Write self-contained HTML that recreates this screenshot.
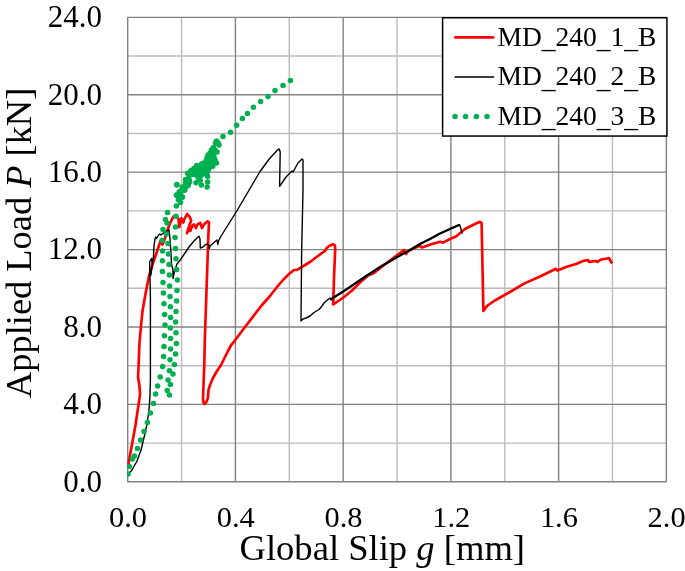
<!DOCTYPE html>
<html lang="en">
<head>
<meta charset="utf-8">
<title>Applied Load vs Global Slip</title>
<style>
html,body{margin:0;padding:0;background:#fff;}
body{width:685px;height:571px;overflow:hidden;}
svg{display:block;}
text{font-family:"Liberation Serif","Times New Roman",serif;fill:#000;}
.tick{font-size:31px;}
.xtick{font-size:30.4px;}
.title{font-size:36.6px;}
.ytitle{font-size:36.4px;}
.leg{font-size:27.5px;}
</style>
</head>
<body>
<svg width="685" height="571" viewBox="0 0 685 571">
<rect x="0" y="0" width="685" height="571" fill="#ffffff"/>

<g stroke="#bcbcbc" stroke-width="1.4" fill="none">
<line x1="181.56" y1="17.35" x2="181.56" y2="481.8"/>
<line x1="289.29" y1="17.35" x2="289.29" y2="481.8"/>
<line x1="397.02" y1="17.35" x2="397.02" y2="481.8"/>
<line x1="504.75" y1="17.35" x2="504.75" y2="481.8"/>
<line x1="612.49" y1="17.35" x2="612.49" y2="481.8"/>
<line x1="127.7" y1="443.10" x2="666.35" y2="443.10"/>
<line x1="127.7" y1="365.69" x2="666.35" y2="365.69"/>
<line x1="127.7" y1="288.28" x2="666.35" y2="288.28"/>
<line x1="127.7" y1="210.87" x2="666.35" y2="210.87"/>
<line x1="127.7" y1="133.46" x2="666.35" y2="133.46"/>
<line x1="127.7" y1="56.05" x2="666.35" y2="56.05"/>
</g>
<g stroke="#828282" stroke-width="1.4" fill="none" stroke-linejoin="round">
<line x1="235.43" y1="17.35" x2="235.43" y2="481.8"/>
<line x1="343.16" y1="17.35" x2="343.16" y2="481.8"/>
<line x1="450.89" y1="17.35" x2="450.89" y2="481.8"/>
<line x1="558.62" y1="17.35" x2="558.62" y2="481.8"/>
<line x1="127.7" y1="404.39" x2="666.35" y2="404.39"/>
<line x1="127.7" y1="326.98" x2="666.35" y2="326.98"/>
<line x1="127.7" y1="249.58" x2="666.35" y2="249.58"/>
<line x1="127.7" y1="172.17" x2="666.35" y2="172.17"/>
<line x1="127.7" y1="94.76" x2="666.35" y2="94.76"/>
<rect x="127.7" y="17.35" width="538.65" height="464.45"/>
</g>
<clipPath id="plotclip"><rect x="127.0" y="16.650000000000002" width="540.05" height="465.85"/></clipPath>
<g clip-path="url(#plotclip)">
<polyline points="127.9,467.3 130.0,455.0 133.0,439.0 135.5,425.0 138.5,405.0 140.0,395.0 139.5,386.0 138.0,377.0 138.5,368.0 139.4,344.0 141.0,326.0 142.5,311.0 145.5,294.0 149.0,276.0 153.0,263.0 155.5,256.0 160.5,241.0 162.5,244.5 164.0,241.0 168.0,228.6 170.8,221.6 173.3,216.8 175.5,215.9 178.5,218.9 179.2,227.1 181.3,218.4 182.3,219.6 183.3,222.6 184.3,219.1 187.3,214.0 189.7,216.8 191.1,220.3 189.0,226.6 186.9,233.3 189.0,230.1 190.4,230.8 192.2,225.9 193.9,224.5 196.0,228.0 197.4,224.5 200.2,222.8 202.0,228.0 204.4,223.8 207.6,221.4 209.0,222.4 208.4,235.0 204.8,340.0 204.3,365.0 203.5,385.0 203.0,399.0 203.5,402.5 204.5,404.0 206.0,402.8 207.3,400.0 208.0,397.0 208.5,390.0 210.0,385.0 213.0,378.0 217.0,371.0 221.0,365.0 224.0,359.0 228.0,351.0 231.5,344.5 233.0,343.0 245.0,327.0 255.0,314.0 262.0,305.0 270.0,296.0 277.0,287.0 283.0,280.0 289.0,274.0 294.0,270.0 297.0,269.8 301.0,267.5 310.0,262.0 320.0,254.5 324.0,251.5 325.0,251.0 327.0,247.5 330.0,245.5 333.0,244.2 335.0,245.5 335.2,249.0 334.0,278.0 333.2,304.5 344.0,297.0 352.0,290.5 360.0,282.5 368.0,275.5 374.0,273.0 384.0,265.0 396.0,256.0 404.0,250.0 406.0,254.0 408.0,251.0 420.0,245.6 422.0,247.6 432.0,244.0 440.0,241.8 443.0,242.6 450.0,239.0 456.0,236.5 462.0,231.5 465.0,229.0 475.0,224.0 480.0,221.8 481.6,223.0 483.4,311.0 487.0,306.0 494.0,301.0 510.0,292.0 524.0,283.6 540.0,276.5 556.0,268.8 557.5,270.6 566.0,267.0 576.0,264.0 583.0,261.0 588.0,260.0 589.0,261.8 596.0,261.0 597.5,261.8 601.0,259.5 606.0,258.8 609.0,258.0 611.5,262.5" fill="none" stroke="#ff0000" stroke-width="2.67" stroke-linejoin="round" stroke-linecap="round"/>
<polyline points="127.6,475.0 132.0,470.0 137.0,461.0 141.0,450.0 144.4,436.0 147.0,424.0 149.0,410.0 150.0,396.0 150.4,380.0 150.4,296.0 149.6,262.0 151.5,258.5 152.3,265.0 150.8,275.5 152.5,263.0 153.5,256.0 154.0,246.0 155.0,239.0 155.8,237.0 156.5,238.5 158.5,235.0 160.0,234.0 161.0,235.0 165.0,232.0 169.0,230.0 170.0,239.0 170.7,249.0 171.0,254.0 171.5,264.0 173.0,270.0 173.0,278.5 174.5,271.0 177.0,264.0 181.0,259.0 185.0,253.0 189.0,247.0 194.0,241.0 197.5,237.5 199.0,236.2 200.0,239.0 200.3,248.0 203.0,247.0 205.5,244.5 207.5,244.2 209.0,245.0 209.3,248.5 210.0,246.0 214.0,242.5 217.0,240.0 217.8,244.5 218.5,241.0 220.5,237.0 236.8,211.0 255.0,180.0 260.0,171.5 270.0,158.0 278.0,149.6 279.2,149.0 280.2,152.0 279.6,186.3 286.0,177.0 292.0,171.0 293.0,172.0 298.0,163.0 302.0,159.0 303.0,160.0 303.0,190.0 301.6,254.0 301.0,321.0 303.0,319.0 306.0,318.0 310.0,316.0 314.0,312.5 319.0,309.5 322.0,306.0 324.0,303.0 328.0,299.5 330.0,298.0 331.0,300.0 332.0,298.5 344.0,291.0 364.0,277.5 380.0,267.0 400.0,255.5 410.0,250.0 420.0,244.0 430.0,239.0 440.0,233.5 450.0,229.0 459.0,225.0 460.0,225.5 462.0,233.0" fill="none" stroke="#000" stroke-width="1.4" stroke-linejoin="round" stroke-linecap="round"/>
<polyline points="332.0,298.5 344.0,291.0 364.0,277.5 380.0,267.0 400.0,255.5 410.0,250.0 420.0,244.0 430.0,239.0 440.0,233.5 450.0,229.0 459.0,225.0" fill="none" stroke="#000" stroke-width="2.2" stroke-linejoin="round" stroke-linecap="round"/>
<g fill="#00b050">
<circle cx="128.0" cy="474.0" r="2.75"/>
<circle cx="129.4" cy="466.4" r="2.75"/>
<circle cx="132.4" cy="459.0" r="2.75"/>
<circle cx="134.4" cy="456.0" r="2.75"/>
<circle cx="137.4" cy="448.6" r="2.75"/>
<circle cx="140.6" cy="440.0" r="2.75"/>
<circle cx="144.0" cy="431.4" r="2.75"/>
<circle cx="147.4" cy="422.6" r="2.75"/>
<circle cx="150.4" cy="413.0" r="2.75"/>
<circle cx="153.4" cy="403.6" r="2.75"/>
<circle cx="155.6" cy="394.0" r="2.75"/>
<circle cx="157.6" cy="386.0" r="2.75"/>
<circle cx="160.2" cy="377.0" r="2.75"/>
<circle cx="162.6" cy="366.4" r="2.75"/>
<circle cx="163.6" cy="356.4" r="2.75"/>
<circle cx="164.0" cy="346.4" r="2.75"/>
<circle cx="164.4" cy="335.8" r="2.75"/>
<circle cx="165.0" cy="325.0" r="2.75"/>
<circle cx="164.6" cy="314.4" r="2.75"/>
<circle cx="164.0" cy="303.8" r="2.75"/>
<circle cx="163.4" cy="293.0" r="2.75"/>
<circle cx="163.0" cy="282.4" r="2.75"/>
<circle cx="162.4" cy="271.4" r="2.75"/>
<circle cx="162.4" cy="260.8" r="2.75"/>
<circle cx="162.5" cy="250.9" r="2.75"/>
<circle cx="162.0" cy="240.4" r="2.75"/>
<circle cx="163.0" cy="229.4" r="2.75"/>
<circle cx="165.5" cy="219.4" r="2.75"/>
<circle cx="167.6" cy="212.4" r="2.75"/>
<circle cx="167.2" cy="390.6" r="2.75"/>
<circle cx="168.0" cy="380.0" r="2.75"/>
<circle cx="169.4" cy="370.8" r="2.75"/>
<circle cx="170.0" cy="359.8" r="2.75"/>
<circle cx="170.6" cy="349.0" r="2.75"/>
<circle cx="170.6" cy="338.4" r="2.75"/>
<circle cx="170.4" cy="328.0" r="2.75"/>
<circle cx="170.6" cy="317.4" r="2.75"/>
<circle cx="170.4" cy="306.8" r="2.75"/>
<circle cx="170.0" cy="296.4" r="2.75"/>
<circle cx="169.6" cy="286.0" r="2.75"/>
<circle cx="169.4" cy="275.0" r="2.75"/>
<circle cx="169.0" cy="264.4" r="2.75"/>
<circle cx="168.5" cy="253.9" r="2.75"/>
<circle cx="168.0" cy="243.4" r="2.75"/>
<circle cx="166.5" cy="233.9" r="2.75"/>
<circle cx="167.0" cy="222.9" r="2.75"/>
<circle cx="169.4" cy="395.0" r="2.75"/>
<circle cx="170.4" cy="384.4" r="2.75"/>
<circle cx="173.0" cy="374.0" r="2.75"/>
<circle cx="174.4" cy="364.4" r="2.75"/>
<circle cx="175.6" cy="354.0" r="2.75"/>
<circle cx="176.4" cy="343.4" r="2.75"/>
<circle cx="176.0" cy="332.8" r="2.75"/>
<circle cx="175.6" cy="322.0" r="2.75"/>
<circle cx="176.0" cy="311.4" r="2.75"/>
<circle cx="176.6" cy="301.0" r="2.75"/>
<circle cx="177.0" cy="290.4" r="2.75"/>
<circle cx="177.4" cy="280.0" r="2.75"/>
<circle cx="176.6" cy="269.4" r="2.75"/>
<circle cx="176.0" cy="258.8" r="2.75"/>
<circle cx="175.5" cy="248.4" r="2.75"/>
<circle cx="175.0" cy="237.4" r="2.75"/>
<circle cx="175.5" cy="226.9" r="2.75"/>
<circle cx="176.0" cy="216.2" r="2.75"/>
<circle cx="176.3" cy="206.1" r="2.75"/>
<circle cx="180.5" cy="202.6" r="2.75"/>
<circle cx="178.4" cy="199.7" r="2.75"/>
<circle cx="182.3" cy="197.3" r="2.75"/>
<circle cx="176.7" cy="195.2" r="2.75"/>
<circle cx="179.8" cy="192.0" r="2.75"/>
<circle cx="184.4" cy="190.3" r="2.75"/>
<circle cx="182.3" cy="187.1" r="2.75"/>
<circle cx="177.0" cy="185.0" r="2.75"/>
<circle cx="187.5" cy="185.7" r="2.75"/>
<circle cx="176.8" cy="184.5" r="2.75"/>
<circle cx="176.4" cy="195.0" r="2.75"/>
<circle cx="179.2" cy="191.9" r="2.75"/>
<circle cx="182.4" cy="197.1" r="2.75"/>
<circle cx="184.8" cy="190.1" r="2.75"/>
<circle cx="183.4" cy="187.0" r="2.75"/>
<circle cx="188.3" cy="184.9" r="2.75"/>
<circle cx="189.7" cy="181.7" r="2.75"/>
<circle cx="185.5" cy="179.6" r="2.75"/>
<circle cx="187.6" cy="173.3" r="2.75"/>
<circle cx="189.0" cy="176.1" r="2.75"/>
<circle cx="191.1" cy="170.5" r="2.75"/>
<circle cx="193.2" cy="174.0" r="2.75"/>
<circle cx="196.0" cy="174.7" r="2.75"/>
<circle cx="196.0" cy="182.8" r="2.75"/>
<circle cx="201.3" cy="184.9" r="2.75"/>
<circle cx="200.2" cy="180.3" r="2.75"/>
<circle cx="200.9" cy="175.4" r="2.75"/>
<circle cx="198.8" cy="171.2" r="2.75"/>
<circle cx="196.7" cy="165.6" r="2.75"/>
<circle cx="201.6" cy="164.2" r="2.75"/>
<circle cx="204.4" cy="167.0" r="2.75"/>
<circle cx="207.6" cy="171.6" r="2.75"/>
<circle cx="207.6" cy="176.5" r="2.75"/>
<circle cx="207.6" cy="182.1" r="2.75"/>
<circle cx="207.2" cy="187.0" r="2.75"/>
<circle cx="207.2" cy="162.1" r="2.75"/>
<circle cx="211.4" cy="164.9" r="2.75"/>
<circle cx="210.0" cy="160.0" r="2.75"/>
<circle cx="214.2" cy="162.8" r="2.75"/>
<circle cx="230.5" cy="132.2" r="2.75"/>
<circle cx="223.0" cy="136.5" r="2.75"/>
<circle cx="216.5" cy="141.0" r="2.75"/>
<circle cx="219.0" cy="145.0" r="2.75"/>
<circle cx="213.5" cy="147.5" r="2.75"/>
<circle cx="217.0" cy="152.0" r="2.75"/>
<circle cx="210.0" cy="153.0" r="2.75"/>
<circle cx="208.0" cy="155.0" r="2.75"/>
<circle cx="214.0" cy="157.0" r="2.75"/>
<circle cx="216.5" cy="163.0" r="2.75"/>
<circle cx="206.0" cy="161.0" r="2.75"/>
<circle cx="210.0" cy="165.0" r="2.75"/>
<circle cx="197.5" cy="166.0" r="2.75"/>
<circle cx="202.0" cy="164.0" r="2.75"/>
<circle cx="194.0" cy="170.0" r="2.75"/>
<circle cx="200.0" cy="172.0" r="2.75"/>
<circle cx="191.0" cy="174.0" r="2.75"/>
<circle cx="290.4" cy="80.4" r="2.75"/>
<circle cx="283.0" cy="85.6" r="2.75"/>
<circle cx="275.0" cy="90.4" r="2.75"/>
<circle cx="268.0" cy="96.4" r="2.75"/>
<circle cx="260.6" cy="101.6" r="2.75"/>
<circle cx="253.4" cy="107.2" r="2.75"/>
<circle cx="247.4" cy="113.4" r="2.75"/>
<circle cx="242.4" cy="118.6" r="2.75"/>
<circle cx="236.6" cy="125.2" r="2.75"/>
<circle cx="193.9" cy="168.4" r="2.75"/>
<circle cx="198.8" cy="167.0" r="2.75"/>
<circle cx="202.3" cy="169.1" r="2.75"/>
<circle cx="205.1" cy="171.9" r="2.75"/>
<circle cx="203.0" cy="174.0" r="2.75"/>
<circle cx="198.1" cy="177.5" r="2.75"/>
<circle cx="189.0" cy="179.6" r="2.75"/>
<circle cx="205.8" cy="164.2" r="2.75"/>
<circle cx="210.0" cy="167.0" r="2.75"/>
<circle cx="212.8" cy="166.3" r="2.75"/>
<circle cx="208.6" cy="169.1" r="2.75"/>
<circle cx="185.5" cy="183.1" r="2.75"/>
<circle cx="186.2" cy="186.6" r="2.75"/>
<circle cx="182.0" cy="189.4" r="2.75"/>
<circle cx="180.6" cy="193.6" r="2.75"/>
<circle cx="178.5" cy="196.4" r="2.75"/>
<circle cx="211.4" cy="162.1" r="2.75"/>
<circle cx="191.1" cy="174.0" r="2.75"/>
<circle cx="215.5" cy="143.0" r="2.75"/>
<circle cx="218.0" cy="143.0" r="2.75"/>
<circle cx="215.0" cy="150.0" r="2.75"/>
<circle cx="211.5" cy="150.0" r="2.75"/>
<circle cx="213.0" cy="154.0" r="2.75"/>
<circle cx="210.0" cy="157.0" r="2.75"/>
<circle cx="207.0" cy="158.0" r="2.75"/>
<circle cx="212.0" cy="160.0" r="2.75"/>
<circle cx="208.0" cy="163.0" r="2.75"/>
<circle cx="204.0" cy="163.0" r="2.75"/>
<circle cx="203.0" cy="167.0" r="2.75"/>
<circle cx="199.0" cy="169.0" r="2.75"/>
<circle cx="196.0" cy="171.0" r="2.75"/>
<circle cx="193.0" cy="174.0" r="2.75"/>
<circle cx="205.0" cy="167.0" r="2.75"/>
<circle cx="213.0" cy="161.0" r="2.75"/>
<circle cx="215.0" cy="160.0" r="2.75"/>
</g>
</g>
<rect x="442.6" y="17.75" width="224.3" height="118.3" fill="#fff" stroke="#000" stroke-width="1.5"/>
<line x1="455.3" y1="37.4" x2="493.2" y2="37.4" stroke="#ff0000" stroke-width="2.67" stroke-linecap="round"/>
<line x1="455" y1="77" x2="493.6" y2="77" stroke="#000" stroke-width="1.33" stroke-linecap="round"/>
<g fill="#00b050">
<circle cx="455" cy="116.4" r="2.75"/>
<circle cx="465.6" cy="116.4" r="2.75"/>
<circle cx="476.4" cy="116.4" r="2.75"/>
<circle cx="487" cy="116.4" r="2.75"/>
</g>
<text class="leg" x="497.5" y="45.7">MD<tspan dy="2.6">_</tspan><tspan dy="-2.6">240</tspan><tspan dy="2.6">_</tspan><tspan dy="-2.6">1</tspan><tspan dy="2.6">_</tspan><tspan dy="-2.6">B</tspan></text>
<text class="leg" x="497.5" y="85.1">MD<tspan dy="2.6">_</tspan><tspan dy="-2.6">240</tspan><tspan dy="2.6">_</tspan><tspan dy="-2.6">2</tspan><tspan dy="2.6">_</tspan><tspan dy="-2.6">B</tspan></text>
<text class="leg" x="497.5" y="124.5">MD<tspan dy="2.6">_</tspan><tspan dy="-2.6">240</tspan><tspan dy="2.6">_</tspan><tspan dy="-2.6">3</tspan><tspan dy="2.6">_</tspan><tspan dy="-2.6">B</tspan></text>
<text class="tick" x="102" y="491.5" text-anchor="end">0.0</text>
<text class="tick" x="102" y="414.1" text-anchor="end">4.0</text>
<text class="tick" x="102" y="336.7" text-anchor="end">8.0</text>
<text class="tick" x="102" y="259.3" text-anchor="end">12.0</text>
<text class="tick" x="102" y="181.9" text-anchor="end">16.0</text>
<text class="tick" x="102" y="104.5" text-anchor="end">20.0</text>
<text class="tick" x="102" y="27.1" text-anchor="end">24.0</text>
<text class="tick xtick" x="128.0" y="526.7" text-anchor="middle">0.0</text>
<text class="tick xtick" x="235.7" y="526.7" text-anchor="middle">0.4</text>
<text class="tick xtick" x="343.5" y="526.7" text-anchor="middle">0.8</text>
<text class="tick xtick" x="451.2" y="526.7" text-anchor="middle">1.2</text>
<text class="tick xtick" x="558.9" y="526.7" text-anchor="middle">1.6</text>
<text class="tick xtick" x="666.6" y="526.7" text-anchor="middle">2.0</text>
<text class="title" x="239.5" y="559.6">Global Slip <tspan font-style="italic">g</tspan> [mm]</text>
<text class="title ytitle" transform="translate(30.5,398) rotate(-90)">Applied Load <tspan font-style="italic">P</tspan> [kN]</text>
</svg>
</body>
</html>
